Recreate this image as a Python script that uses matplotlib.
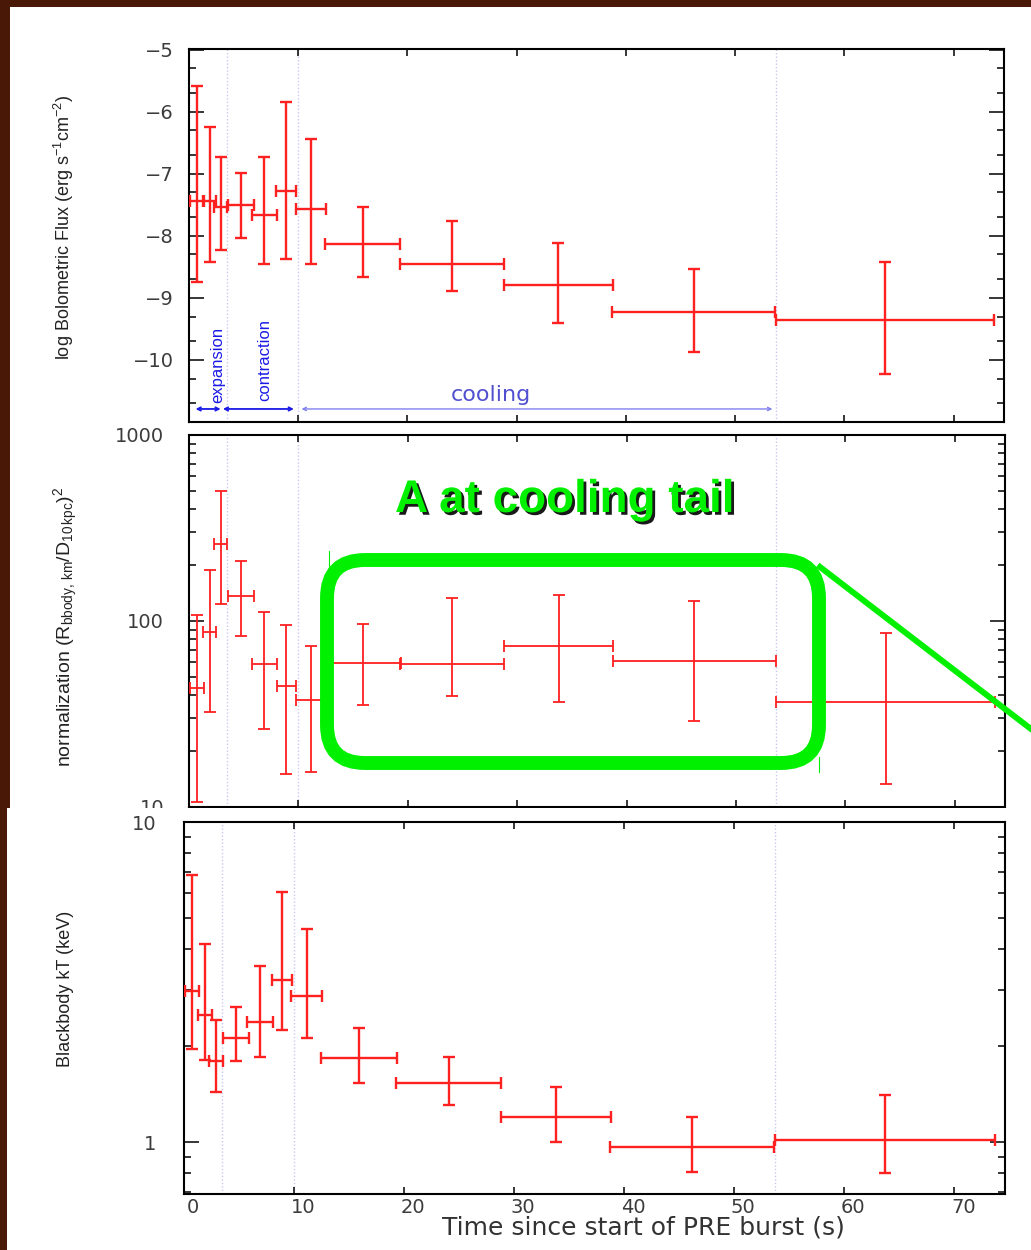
import numpy as np
import matplotlib
matplotlib.use("Agg")
import matplotlib.pyplot as plt
import matplotlib.patheffects as pe
from matplotlib import font_manager
from matplotlib.patches import FancyBboxPatch, Rectangle
from matplotlib.lines import Line2D
from matplotlib.transforms import Affine2D, ScaledTranslation
from matplotlib.ticker import FixedLocator, NullFormatter, NullLocator, LogLocator

W, H = 1031, 1250

# time bins of the spectral fits (s)
t_mid = [0.7, 1.9, 2.9, 4.75, 6.9, 8.9, 11.15, 15.9, 24.05, 33.8, 46.2, 63.7]
t_half = [0.65, 0.6, 0.6, 1.2, 1.15, 0.9, 1.4, 3.45, 4.75, 5.0, 7.45, 10.0]

# log bolometric flux (erg/s/cm2)
flux = [-7.44, -7.44, -7.53, -7.51, -7.67, -7.28, -7.56, -8.14, -8.46, -8.79, -9.23, -9.36]
flux_hi = [-5.59, -6.25, -6.73, -6.98, -6.73, -5.84, -6.44, -7.54, -7.76, -8.12, -8.53, -8.43]
flux_lo = [-8.75, -8.42, -8.23, -8.04, -8.46, -8.38, -8.46, -8.66, -8.89, -9.41, -9.87, -10.22]

# blackbody normalization (R_km / D_10kpc)^2
norm = [43.7, 87.3, 261, 135.5, 58.7, 44.6, 37.5, 59.6, 58.5, 73.1, 60.8, 36.7]
norm_hi = [108, 187.5, 497.6, 211, 112, 94.6, 73.1, 96.2, 133, 138, 128, 86.7]
norm_lo = [10.6, 32.3, 124, 82.8, 26.3, 15.1, 15.4, 35.2, 39.4, 36.7, 29.0, 13.3]

# blackbody temperature (keV)
kT = [2.96, 2.49, 1.80, 2.12, 2.38, 3.21, 2.87, 1.83, 1.53, 1.20, 0.97, 1.02]
kT_hi = [6.83, 4.16, 2.41, 2.64, 3.54, 6.04, 4.63, 2.27, 1.85, 1.49, 1.196, 1.41]
kT_lo = [1.96, 1.81, 1.44, 1.79, 1.85, 2.25, 2.12, 1.53, 1.31, 1.0, 0.807, 0.80]

# phase boundaries (s)
phase_edges = [3.45, 10.0, 53.7]

names = {f.name for f in font_manager.fontManager.ttflist}
narrow = "Liberation Sans Narrow" if "Liberation Sans Narrow" in names else "Liberation Sans"
plt.rcParams["mathtext.fontset"] = "custom"
plt.rcParams["mathtext.rm"] = narrow
plt.rcParams["mathtext.it"] = narrow

RED = "#ff2020"
TICK_GRAY = "#3c3c3c"

fig = plt.figure(figsize=(W / 100, H / 100), dpi=100, facecolor="#4a1806")
# pixel coordinates, origin at top left
pix = Affine2D().scale(1 / W, -1 / H).translate(0, 1) + fig.transFigure

top_bg = Rectangle((10, 7), W - 10, 801, transform=pix, facecolor="white", edgecolor="none", zorder=-10)
fig.add_artist(top_bg)
bot_bg = Rectangle((7, 808), W - 7, H - 808, transform=pix, facecolor="white", edgecolor="none", zorder=0.5)
fig.add_artist(bot_bg)


def rect(l, t, r, b):
    return [l / W, 1 - b / H, (r - l) / W, (b - t) / H]


def style(ax, ylab_pad):
    ax.set_xlim(0, 74.6)
    ax.xaxis.set_major_locator(FixedLocator(range(0, 80, 10)))
    ax.xaxis.set_minor_locator(NullLocator())
    ax.tick_params(which="both", direction="in", top=True, right=True, width=1.1, color="black")
    ax.tick_params(axis="x", which="major", length=5)
    ax.tick_params(axis="y", which="major", length=10.5, pad=ylab_pad, labelsize=14, labelcolor=TICK_GRAY)
    ax.tick_params(axis="y", which="minor", length=4.7)
    for s in ax.spines.values():
        s.set_linewidth(1.5)
    for x in phase_edges:
        ax.axvline(x, color="#c8c8f0", lw=1.0, ls=(0, (1, 1.5)), zorder=0)


def bars(ax, y, lo, hi, lw):
    y = np.asarray(y)
    yerr = np.array([y - np.asarray(lo), np.asarray(hi) - y])
    ax.errorbar(t_mid, y, xerr=t_half, yerr=yerr, fmt="none", ecolor=RED,
                elinewidth=lw, capsize=4, capthick=lw, zorder=3)


# ---- flux panel
ax1 = fig.add_axes(rect(189, 49, 1004, 422))
style(ax1, 11)
bars(ax1, flux, flux_lo, flux_hi, 1.7)
ax1.set_ylim(-11.0, -4.99)
ax1.yaxis.set_major_locator(FixedLocator([-10, -9, -8, -7, -6, -5]))
ax1.yaxis.set_minor_locator(FixedLocator([k + np.log10(s) for k in range(-11, -5) for s in (2, 5)]))
ax1.tick_params(axis="x", labelbottom=False)

y_arrow = -10.79
ax1.annotate("", xy=(2.9, y_arrow), xytext=(0.6, y_arrow),
             arrowprops=dict(arrowstyle="<->", color="#1a1ae6", lw=1.3, shrinkA=0, shrinkB=0, mutation_scale=6))
ax1.annotate("", xy=(9.6, y_arrow), xytext=(3.1, y_arrow),
             arrowprops=dict(arrowstyle="<->", color="#1a1ae6", lw=1.3, shrinkA=0, shrinkB=0, mutation_scale=6))
ax1.annotate("", xy=(53.4, y_arrow), xytext=(10.3, y_arrow),
             arrowprops=dict(arrowstyle="<->", color="#8080f0", lw=1.0, shrinkA=0, shrinkB=0, mutation_scale=6))
ax1.text(2.65, -10.70, "expansion", rotation=90, ha="center", va="bottom", color="#1a1ae6",
         fontsize=12, family=narrow)
ax1.text(6.95, -10.66, "contraction", rotation=90, ha="center", va="bottom", color="#1a1ae6",
         fontsize=12, family=narrow)
ax1.text(27.6, -10.57, "cooling", ha="center", va="center", color="#5050d0", fontsize=16)

# ---- normalization panel
ax2 = fig.add_axes(rect(189, 435, 1005, 807))
style(ax2, 18)
ax2.set_yscale("log")
bars(ax2, norm, norm_lo, norm_hi, 1.3)
ax2.set_ylim(10, 1000)
ax2.set_yticks([10, 100, 1000], labels=["10", "100", "1000"])
ax2.yaxis.set_minor_locator(LogLocator(subs=range(2, 10)))
ax2.yaxis.set_minor_formatter(NullFormatter())
ax2.tick_params(axis="x", labelbottom=False)

# ---- temperature panel
ax3 = fig.add_axes(rect(184, 822, 1005, 1194))
ax3.set_zorder(1)
style(ax3, 20)
ax3.set_yscale("log")
bars(ax3, kT, kT_lo, kT_hi, 1.7)
ax3.set_ylim(0.69, 10)
ax3.set_yticks([1, 10], labels=["1", "10"])
ax3.yaxis.set_minor_locator(LogLocator(subs=range(2, 10)))
ax3.yaxis.set_minor_formatter(NullFormatter())
ax3.tick_params(axis="x", pad=3, labelsize=14, labelcolor=TICK_GRAY)
shift = ScaledTranslation(9 / 100, 0, fig.dpi_scale_trans)
for lab in ax3.get_xticklabels():
    lab.set_transform(lab.get_transform() + shift)

# axis titles
fig.text(64, 227, r"log Bolometric Flux (erg s$^{-1}$cm$^{-2}$)", transform=pix, rotation=90,
         ha="center", va="center", fontsize=13, family=narrow, color="#222222")
fig.text(66, 627, r"normalization (R$_{\rm bbody,\,km}$/D$_{\rm 10\,kpc}$)$^2$", transform=pix,
         rotation=90, ha="center", va="center", fontsize=14, family=narrow, color="#222222")
fig.text(66, 989, "Blackbody kT (keV)", transform=pix, rotation=90,
         ha="center", va="center", fontsize=13, family=narrow, color="#222222")
fig.text(643, 1228, "Time since start of PRE burst (s)", transform=pix, ha="center", va="center",
         fontsize=18, color="#333333")

# cooling-tail highlight
GREEN = "#00f000"
box = FancyBboxPatch((327, 560), 492, 203, boxstyle="round,pad=0,rounding_size=38",
                     transform=pix, facecolor="none", edgecolor=GREEN, lw=10, zorder=5)
fig.add_artist(box)
fig.add_artist(Line2D([820, 1031], [567, 729], transform=pix, color=GREEN, lw=4.3, zorder=5))
fig.add_artist(Line2D([329, 329], [551, 567], transform=pix, color=GREEN, lw=0.8, zorder=5))
fig.add_artist(Line2D([819, 819], [757, 772], transform=pix, color=GREEN, lw=0.8, zorder=5))
fig.text(395, 512, "A at cooling tail", transform=pix, ha="left", va="baseline",
         fontsize=33, fontweight="bold", family="Liberation Sans", color=GREEN, zorder=6,
         path_effects=[pe.withSimplePatchShadow(offset=(2, -2), shadow_rgbFace="black", alpha=0.9)])

fig.savefig("out.png", dpi=100, facecolor=fig.get_facecolor())
